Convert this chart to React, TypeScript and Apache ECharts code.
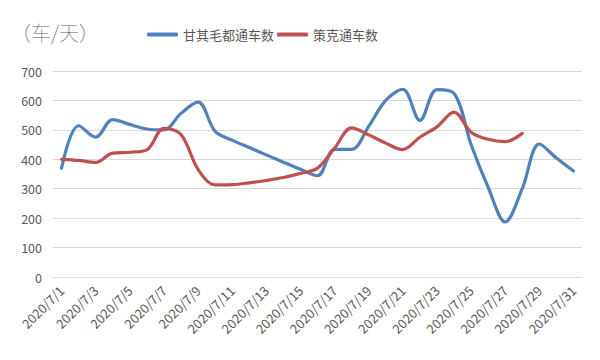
import React, { useEffect, useRef } from "react";
import * as echarts from "echarts";

const categories: string[] = [];
for (let d = 1; d <= 31; d++) categories.push(`2020/7/${d}`);

const seriesNames = ["甘其毛都通车数", "策克通车数"];

const ganqimaoduValues = [
  370, 514, 475, 535, 518, 503, 500, 556, 594, 495,
  465, 440, 415, 390, 366, 344, 434, 434, 512, 600,
  638, 532, 637, 624, 450, 305, 187, 300, 452, 404,
  360,
];

const ceKeValues: (number | null)[] = [
  400, 396, 389, 421, 424, 432, 505, 484, 366, 313,
  314, 320, 328, 338, 352, 370, 438, 507, 483, 455,
  433, 475, 510, 560, 492, 468, 460, 488, null, null,
  null,
];

const yTicks = { min: 0, max: 700, interval: 100 };
const unitLabel = "（车/天）";

const FONT = "'Noto Sans CJK SC', 'Noto Sans', sans-serif";

export default function App() {
  const ref = useRef<HTMLDivElement>(null);
  useEffect(() => {
    if (!ref.current) return;
    const chart = echarts.init(ref.current, undefined, { renderer: "svg" });
    chart.setOption({
      animation: false,
      textStyle: { fontFamily: FONT },
      title: {
        text: unitLabel,
        left: 6,
        top: 17,
        textStyle: { fontSize: 20, fontWeight: "lighter", color: "#595959", fontFamily: FONT },
      },
      legend: {
        left: 142,
        top: 23,
        itemWidth: 31,
        itemHeight: 4,
        itemGap: 3,
        icon: "roundRect",
        textStyle: { fontSize: 13, color: "#595959", fontFamily: FONT },
        data: seriesNames,
      },
      grid: { left: 53, right: 18, top: 71, bottom: 83 },
      xAxis: {
        type: "category",
        data: categories,
        boundaryGap: true,
        axisLine: { lineStyle: { color: "#d9d9d9" } },
        axisTick: { interval: 1, length: 5, lineStyle: { color: "#d9d9d9" } },
        axisLabel: {
          interval: 1,
          rotate: 45,
          fontSize: 13,
          color: "#595959",
          margin: 11,
          fontFamily: FONT,
        },
      },
      yAxis: {
        type: "value",
        min: yTicks.min,
        max: yTicks.max,
        interval: yTicks.interval,
        axisLine: { show: false },
        axisTick: { show: false },
        splitLine: { lineStyle: { color: "#d9d9d9" } },
        axisLabel: { fontSize: 12.5, color: "#595959", margin: 11, fontFamily: FONT },
      },
      series: [
        {
          name: seriesNames[0],
          type: "line",
          data: ganqimaoduValues,
          smooth: 0.35,
          symbol: "none",
          lineStyle: { width: 3.2, color: "#4f81bd", cap: "round" },
          itemStyle: { color: "#4f81bd" },
        },
        {
          name: seriesNames[1],
          type: "line",
          data: ceKeValues,
          smooth: 0.35,
          symbol: "none",
          lineStyle: { width: 3.2, color: "#c0504d", cap: "round" },
          itemStyle: { color: "#c0504d" },
        },
      ],
    });
    return () => chart.dispose();
  }, []);
  return <div ref={ref} style={{ width: 600, height: 360, margin: -8 }} />;
}
